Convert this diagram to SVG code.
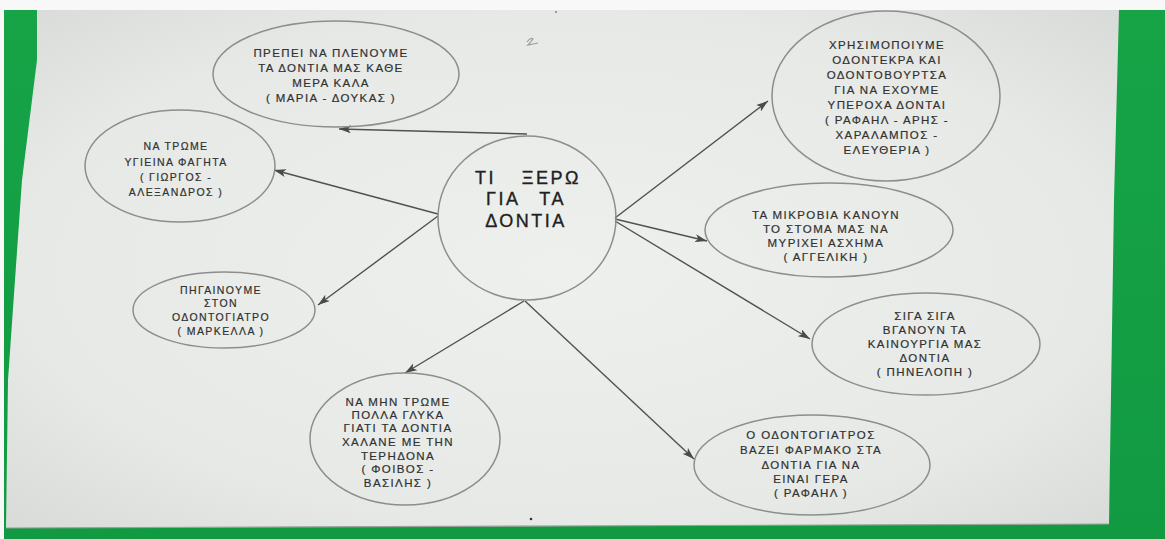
<svg xmlns="http://www.w3.org/2000/svg" width="1165" height="539" viewBox="0 0 1165 539">
  <defs>
    <radialGradient id="paper" cx="0.5" cy="0.5" r="0.7">
      <stop offset="0" stop-color="#eef0ee"/>
      <stop offset="0.7" stop-color="#e7e9e7"/>
      <stop offset="1" stop-color="#d8dbd8"/>
    </radialGradient>
    <linearGradient id="green" x1="0" y1="0" x2="0" y2="1">
      <stop offset="0" stop-color="#16a447"/>
      <stop offset="1" stop-color="#129a42"/>
    </linearGradient>
    <marker id="arrow" viewBox="0 0 12 8" refX="12" refY="4" markerWidth="12" markerHeight="8" markerUnits="userSpaceOnUse" orient="auto">
      <path d="M0,0 L12,4 L0,8 L3,4 Z" fill="#4a4a4a"/>
    </marker>
    <style>
      .bubble { fill: none; stroke: #8c8e8c; stroke-width: 1.5; }
      .conn { fill: none; stroke: #505250; stroke-width: 1.4; marker-end: url(#arrow); }
      .t { font-family: "Liberation Sans", "DejaVu Sans", sans-serif; font-size: 11.5px; letter-spacing: 1.4px; fill: #303130; stroke: #303130; stroke-width: 0.2px; text-anchor: middle; }
      .s { font-size: 10.5px; }
      .c { font-family: "Liberation Sans", "DejaVu Sans", sans-serif; font-size: 18px; letter-spacing: 2.5px; fill: #202120; stroke: #202120; stroke-width: 0.35px; }
    </style>
  </defs>

  <rect x="0" y="0" width="1165" height="539" fill="#f7f8f7"/>
  <rect x="4" y="10" width="1161" height="529" fill="url(#green)"/>
  <path d="M37,10 L1119,10 L1114,200 L1109,524 L6,528 L8,380 L22,180 L37,60 Z" fill="url(#paper)"/>
  <path d="M6,528 L1109,524" stroke="#9aa09a" stroke-width="1.2" fill="none"/>

  <g id="marks">
    <path d="M527,42 Q531,37 533,39 Q530,43 528,45 Q533,44 538,43" fill="none" stroke="#9a9c9a" stroke-width="1.2"/>
    <circle cx="556" cy="12" r="0.9" fill="#777"/>
    <circle cx="531" cy="519" r="1.3" fill="#333"/>
  </g>

  <g id="connectors">
    <path class="conn" d="M527,134 L339,129"/>
    <path class="conn" d="M438,214 L274,170"/>
    <path class="conn" d="M438,216 L318,305"/>
    <path class="conn" d="M524,301 L405,373"/>
    <path class="conn" d="M615,218 L768,101"/>
    <path class="conn" d="M615,219 L707,241"/>
    <path class="conn" d="M615,221 L810,339"/>
    <path class="conn" d="M525,301 L694,459"/>
  </g>

  <g id="center">
    <ellipse class="bubble" cx="527" cy="218" rx="89" ry="82"/>
    <text class="c" x="475" y="184">ΤΙ</text>
    <text class="c" x="581" y="184" text-anchor="end" letter-spacing="1.5">ΞΕΡΩ</text>
    <text class="c" x="486" y="205">ΓΙΑ</text>
    <text class="c" x="566" y="205" text-anchor="end">ΤΑ</text>
    <text class="c" x="526" y="227" text-anchor="middle" letter-spacing="3">ΔΟΝΤΙΑ</text>
  </g>

  <g id="node-plenoume">
    <ellipse class="bubble" cx="336" cy="74" rx="123" ry="53"/>
    <text class="t" x="331" y="57">ΠΡΕΠΕΙ ΝΑ ΠΛΕΝΟΥΜΕ</text>
    <text class="t" x="331" y="72">ΤΑ ΔΟΝΤΙΑ ΜΑΣ ΚΑΘΕ</text>
    <text class="t" x="331" y="87">ΜΕΡΑ ΚΑΛΑ</text>
    <text class="t" x="331" y="102">( ΜΑΡΙΑ - ΔΟΥΚΑΣ )</text>
  </g>

  <g id="node-trome">
    <ellipse class="bubble" cx="180" cy="166" rx="95" ry="56"/>
    <text class="t s" x="176" y="150">ΝΑ ΤΡΩΜΕ</text>
    <text class="t s" x="176" y="166">ΥΓΙΕΙΝΑ ΦΑΓΗΤΑ</text>
    <text class="t s" x="176" y="181">( ΓΙΩΡΓΟΣ -</text>
    <text class="t s" x="176" y="196">ΑΛΕΞΑΝΔΡΟΣ )</text>
  </g>

  <g id="node-odontogiatro">
    <ellipse class="bubble" cx="224" cy="310" rx="91" ry="38"/>
    <text class="t s" x="221" y="294">ΠΗΓΑΙΝΟΥΜΕ</text>
    <text class="t s" x="221" y="307">ΣΤΟΝ</text>
    <text class="t s" x="221" y="321">ΟΔΟΝΤΟΓΙΑΤΡΟ</text>
    <text class="t s" x="221" y="335">( ΜΑΡΚΕΛΛΑ )</text>
  </g>

  <g id="node-glyka">
    <ellipse class="bubble" cx="405" cy="439" rx="95" ry="66"/>
    <text class="t" x="398" y="406">ΝΑ ΜΗΝ ΤΡΩΜΕ</text>
    <text class="t" x="398" y="419">ΠΟΛΛΑ ΓΛΥΚΑ</text>
    <text class="t" x="398" y="432">ΓΙΑΤΙ ΤΑ ΔΟΝΤΙΑ</text>
    <text class="t" x="398" y="446">ΧΑΛΑΝΕ ΜΕ ΤΗΝ</text>
    <text class="t" x="398" y="460">ΤΕΡΗΔΟΝΑ</text>
    <text class="t" x="398" y="473">( ΦΟΙΒΟΣ -</text>
    <text class="t" x="398" y="487">ΒΑΣΙΛΗΣ )</text>
  </g>

  <g id="node-odontokrema">
    <ellipse class="bubble" cx="886" cy="96" rx="114" ry="85"/>
    <text class="t" x="887" y="49">ΧΡΗΣΙΜΟΠΟΙΥΜΕ</text>
    <text class="t" x="887" y="64">ΟΔΟΝΤΕΚΡΑ ΚΑΙ</text>
    <text class="t" x="887" y="79">ΟΔΟΝΤΟΒΟΥΡΤΣΑ</text>
    <text class="t" x="887" y="94">ΓΙΑ ΝΑ ΕΧΟΥΜΕ</text>
    <text class="t" x="887" y="109">ΥΠΕΡΟΧΑ ΔΟΝΤΑΙ</text>
    <text class="t" x="887" y="124">( ΡΑΦΑΗΛ - ΑΡΗΣ -</text>
    <text class="t" x="887" y="139">ΧΑΡΑΛΑΜΠΟΣ -</text>
    <text class="t" x="887" y="154">ΕΛΕΥΘΕΡΙΑ )</text>
  </g>

  <g id="node-mikrobia">
    <ellipse class="bubble" cx="829" cy="230" rx="124" ry="47"/>
    <text class="t" x="826" y="219">ΤΑ ΜΙΚΡΟΒΙΑ ΚΑΝΟΥΝ</text>
    <text class="t" x="826" y="233">ΤΟ ΣΤΟΜΑ ΜΑΣ ΝΑ</text>
    <text class="t" x="826" y="247">ΜΥΡΙΧΕΙ ΑΣΧΗΜΑ</text>
    <text class="t" x="826" y="261">( ΑΓΓΕΛΙΚΗ )</text>
  </g>

  <g id="node-siga">
    <ellipse class="bubble" cx="926" cy="344" rx="114" ry="51"/>
    <text class="t" x="925" y="320">ΣΙΓΑ ΣΙΓΑ</text>
    <text class="t" x="925" y="334">ΒΓΑΝΟΥΝ ΤΑ</text>
    <text class="t" x="925" y="348">ΚΑΙΝΟΥΡΓΙΑ ΜΑΣ</text>
    <text class="t" x="925" y="362">ΔΟΝΤΙΑ</text>
    <text class="t" x="925" y="376">( ΠΗΝΕΛΟΠΗ )</text>
  </g>

  <g id="node-farmako">
    <ellipse class="bubble" cx="812" cy="465" rx="118" ry="50"/>
    <text class="t" x="811" y="439">Ο ΟΔΟΝΤΟΓΙΑΤΡΟΣ</text>
    <text class="t" x="811" y="454">ΒΑΖΕΙ ΦΑΡΜΑΚΟ ΣΤΑ</text>
    <text class="t" x="811" y="469">ΔΟΝΤΙΑ ΓΙΑ ΝΑ</text>
    <text class="t" x="811" y="483">ΕΙΝΑΙ ΓΕΡΑ</text>
    <text class="t" x="811" y="497">( ΡΑΦΑΗΛ )</text>
  </g>
</svg>
